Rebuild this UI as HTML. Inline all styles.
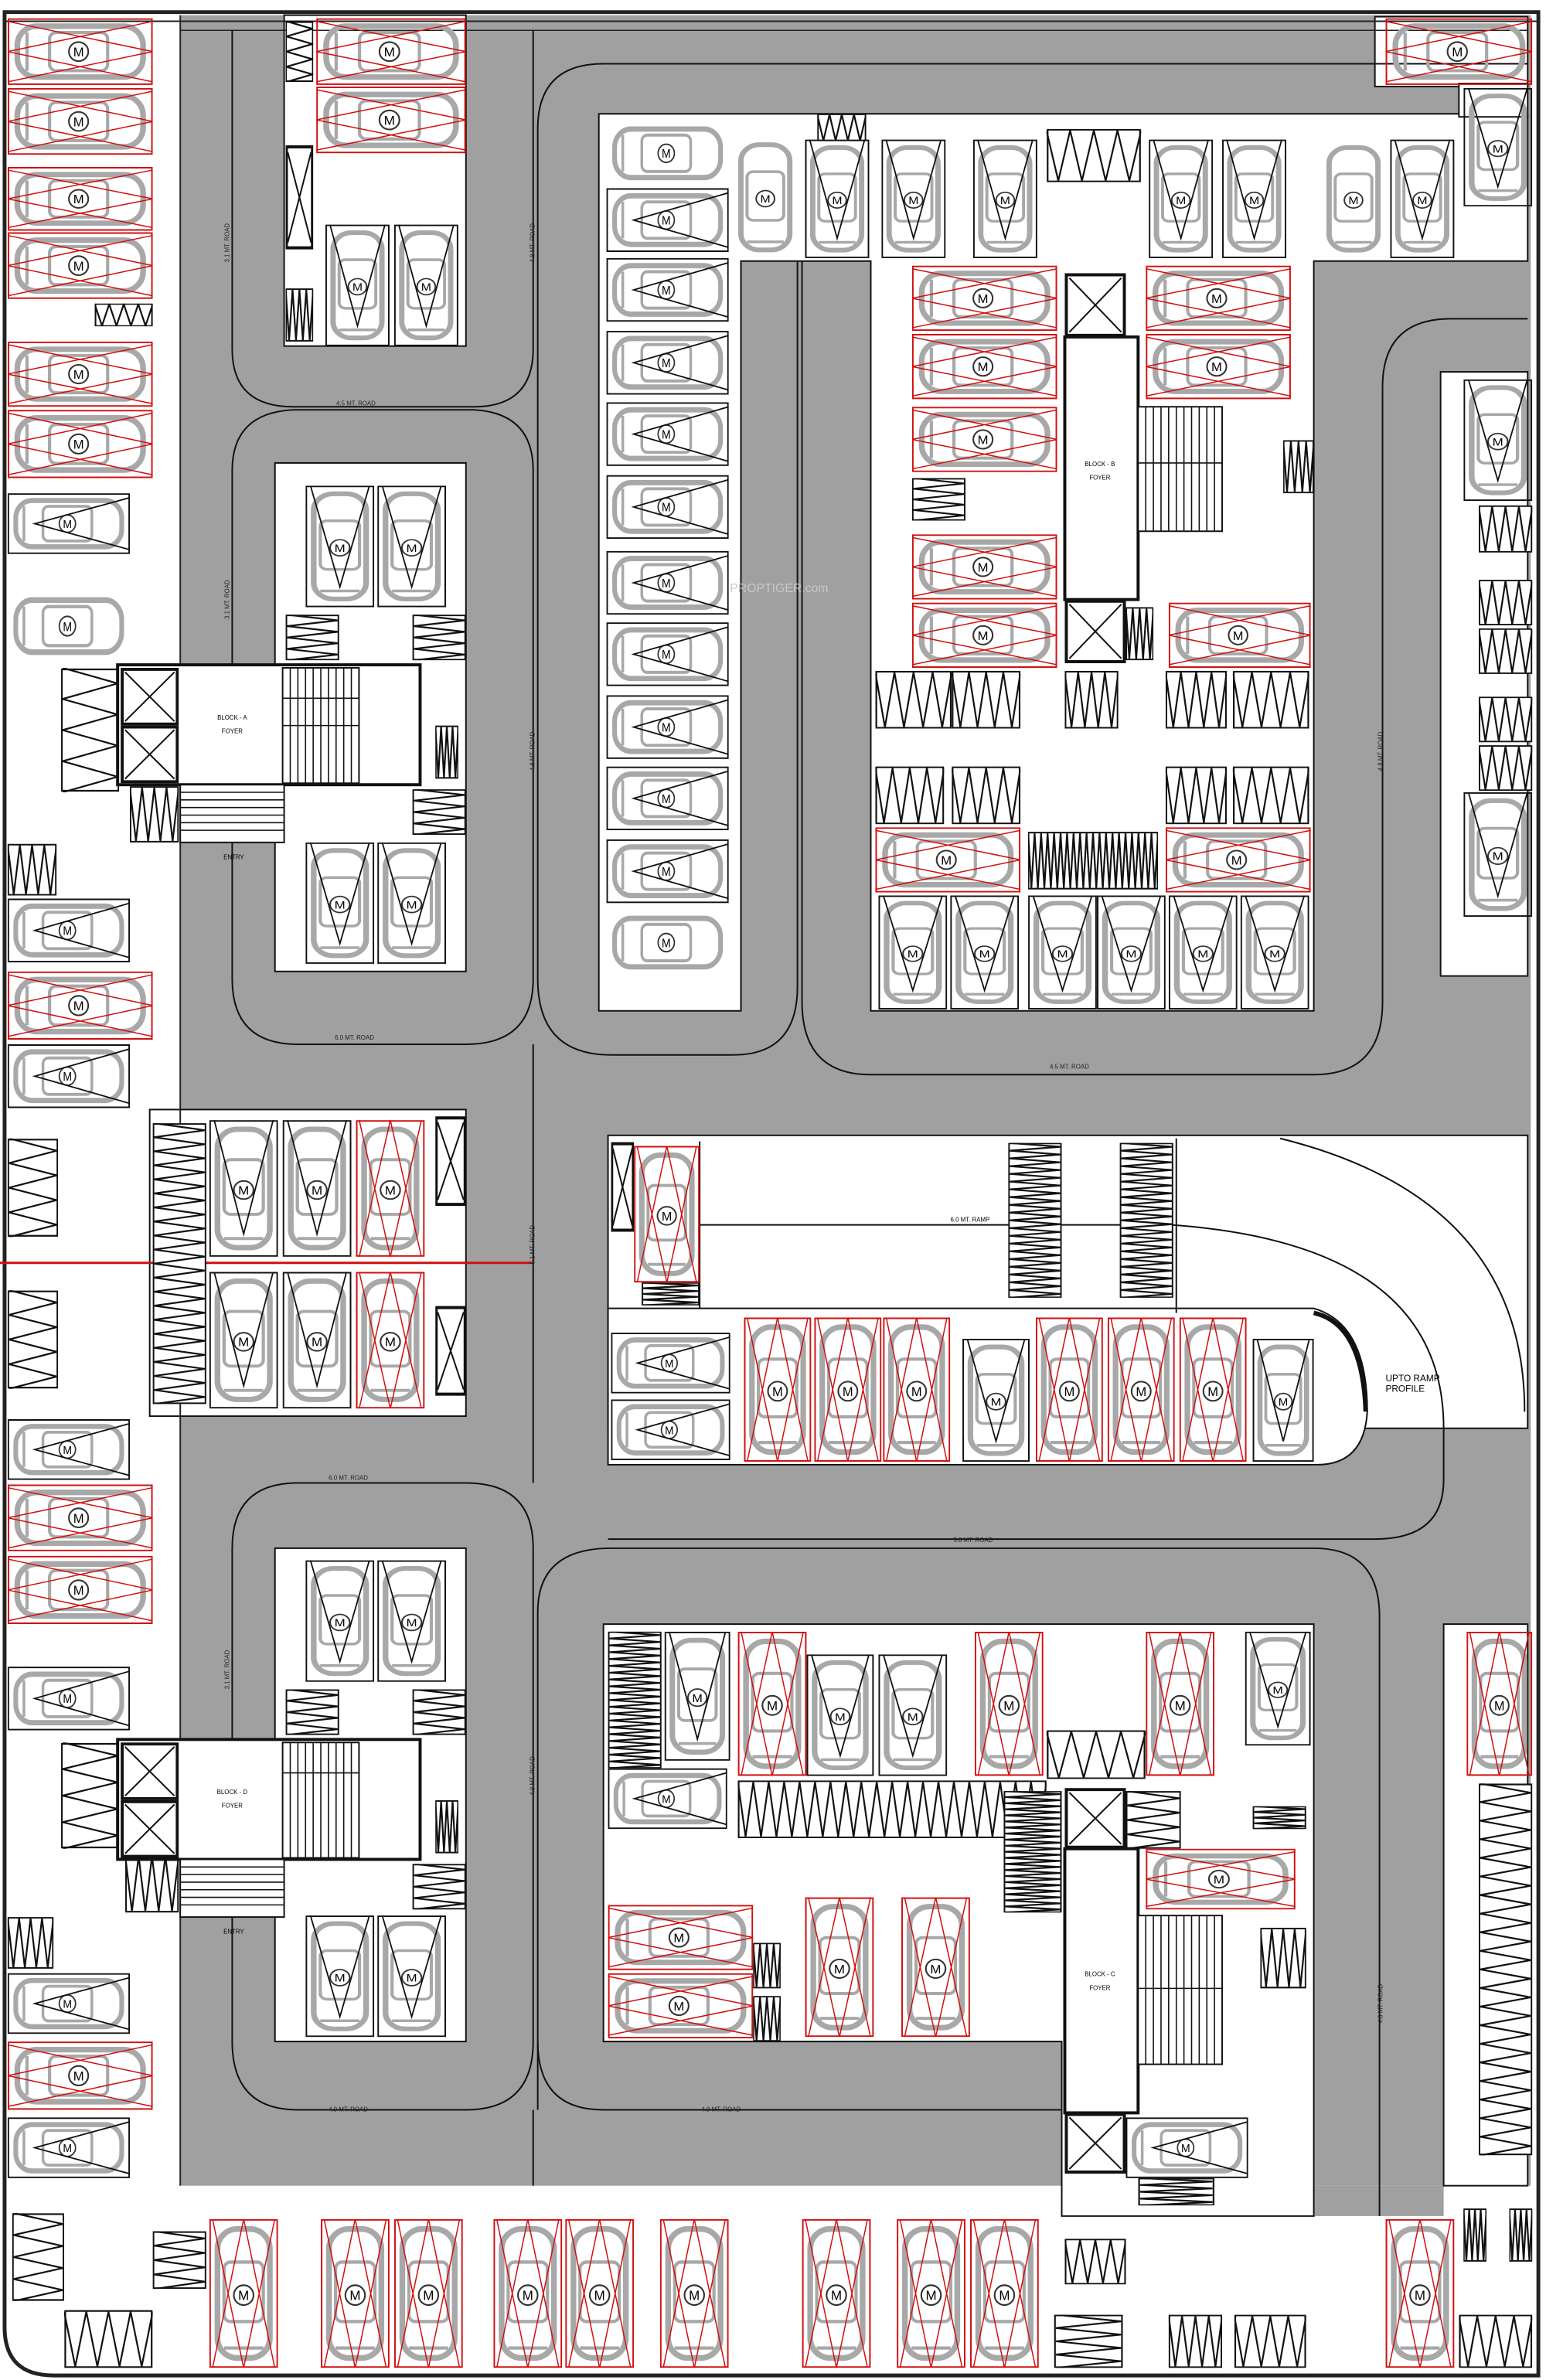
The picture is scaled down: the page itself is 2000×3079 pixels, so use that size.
<!DOCTYPE html>
<html><head><meta charset="utf-8"><style>
html,body{margin:0;padding:0;background:#fff}
svg{display:block}
text{font-family:"Liberation Sans",sans-serif}
</style></head><body>
<svg width="2000" height="3079" viewBox="0 0 1012 1568" preserveAspectRatio="none" xmlns="http://www.w3.org/2000/svg">
<defs>
<symbol id="ch" viewBox="0 0 90 42" preserveAspectRatio="none">
<rect x="6" y="5" width="78" height="32" rx="12" fill="none" stroke="#a8a8a8" stroke-width="3.5"/>
<rect x="26" y="9" width="36" height="24" rx="4" fill="none" stroke="#a8a8a8" stroke-width="2"/>
<line x1="12" y1="9" x2="12" y2="33" stroke="#a8a8a8" stroke-width="2"/>
<circle cx="44" cy="21" r="6" fill="#fff" stroke="#333" stroke-width="1"/>
<text x="44" y="24" font-size="8" text-anchor="middle">M</text>
</symbol>
<symbol id="cv" viewBox="0 0 42 90" preserveAspectRatio="none">
<rect x="5" y="6" width="32" height="78" rx="12" fill="none" stroke="#a8a8a8" stroke-width="3.5"/>
<rect x="9" y="26" width="24" height="36" rx="4" fill="none" stroke="#a8a8a8" stroke-width="2"/>
<line x1="9" y1="78" x2="33" y2="78" stroke="#a8a8a8" stroke-width="2"/>
<circle cx="21" cy="46" r="6" fill="#fff" stroke="#333" stroke-width="1"/>
<text x="21" y="49" font-size="8" text-anchor="middle">M</text>
</symbol>
<symbol id="RH" viewBox="0 0 90 42" preserveAspectRatio="none">
<use href="#ch" width="90" height="42"/>
<rect x="0.5" y="0.5" width="89" height="41" fill="none" stroke="#d01010" stroke-width="2" vector-effect="non-scaling-stroke"/>
<polyline points="0,2 90,21 0,40" fill="none" stroke="#d01010" stroke-width="1.5" vector-effect="non-scaling-stroke"/>
<polyline points="90,2 0,21 90,40" fill="none" stroke="#d01010" stroke-width="1.5" vector-effect="non-scaling-stroke"/>
</symbol>
<symbol id="KH" viewBox="0 0 90 42" preserveAspectRatio="none">
<use href="#ch" width="90" height="42"/>
<rect x="0.5" y="0.5" width="89" height="41" fill="none" stroke="#111" stroke-width="2" vector-effect="non-scaling-stroke"/>
<polyline points="90,3 20,21 90,39" fill="none" stroke="#111" stroke-width="1.8" vector-effect="non-scaling-stroke"/>
</symbol>
<symbol id="RV" viewBox="0 0 42 90" preserveAspectRatio="none">
<use href="#cv" width="42" height="90"/>
<rect x="0.5" y="0.5" width="41" height="89" fill="none" stroke="#d01010" stroke-width="2" vector-effect="non-scaling-stroke"/>
<polyline points="2,0 21,90 40,0" fill="none" stroke="#d01010" stroke-width="1.5" vector-effect="non-scaling-stroke"/>
<polyline points="2,90 21,0 40,90" fill="none" stroke="#d01010" stroke-width="1.5" vector-effect="non-scaling-stroke"/>
</symbol>
<symbol id="KV" viewBox="0 0 42 90" preserveAspectRatio="none">
<use href="#cv" width="42" height="90"/>
<rect x="0.5" y="0.5" width="41" height="89" fill="none" stroke="#111" stroke-width="2" vector-effect="non-scaling-stroke"/>
<polyline points="3,0 21,75 39,0" fill="none" stroke="#111" stroke-width="1.8" vector-effect="non-scaling-stroke"/>
</symbol>
<symbol id="ZV" viewBox="0 0 40 40" preserveAspectRatio="none">
<rect x="0.5" y="0.5" width="39" height="39" fill="#fff" stroke="#111" stroke-width="2.2" vector-effect="non-scaling-stroke"/>
<polyline points="0,1 5,39 10,1 15,39 20,1 25,39 30,1 35,39 40,1" fill="none" stroke="#111" stroke-width="2.2" vector-effect="non-scaling-stroke"/>
</symbol>
<symbol id="ZW" viewBox="0 0 200 40" preserveAspectRatio="none">
<rect x="0.5" y="0.5" width="199" height="39" fill="#fff" stroke="#111" stroke-width="2.2" vector-effect="non-scaling-stroke"/>
<polyline points="0,1 5,39 10,1 15,39 20,1 25,39 30,1 35,39 40,1 45,39 50,1 55,39 60,1 65,39 70,1 75,39 80,1 85,39 90,1 95,39 100,1 105,39 110,1 115,39 120,1 125,39 130,1 135,39 140,1 145,39 150,1 155,39 160,1 165,39 170,1 175,39 180,1 185,39 190,1 195,39 200,1" fill="none" stroke="#111" stroke-width="2.2" vector-effect="non-scaling-stroke"/>
</symbol>
<symbol id="ZH" viewBox="0 0 40 40" preserveAspectRatio="none">
<rect x="0.5" y="0.5" width="39" height="39" fill="#fff" stroke="#111" stroke-width="2.2" vector-effect="non-scaling-stroke"/>
<polyline points="1,0 39,5 1,10 39,15 1,20 39,25 1,30 39,35 1,40" fill="none" stroke="#111" stroke-width="2.2" vector-effect="non-scaling-stroke"/>
</symbol>
<symbol id="ZT" viewBox="0 0 40 200" preserveAspectRatio="none">
<rect x="0.5" y="0.5" width="39" height="199" fill="#fff" stroke="#111" stroke-width="2.2" vector-effect="non-scaling-stroke"/>
<polyline points="1,0 39,5 1,10 39,15 1,20 39,25 1,30 39,35 1,40 39,45 1,50 39,55 1,60 39,65 1,70 39,75 1,80 39,85 1,90 39,95 1,100 39,105 1,110 39,115 1,120 39,125 1,130 39,135 1,140 39,145 1,150 39,155 1,160 39,165 1,170 39,175 1,180 39,185 1,190 39,195 1,200" fill="none" stroke="#111" stroke-width="2.2" vector-effect="non-scaling-stroke"/>
</symbol>
<symbol id="XB" viewBox="0 0 40 40" preserveAspectRatio="none">
<rect x="1" y="1" width="38" height="38" fill="#fff" stroke="#111" stroke-width="4" vector-effect="non-scaling-stroke"/>
<line x1="3" y1="3" x2="37" y2="37" stroke="#111" stroke-width="2" vector-effect="non-scaling-stroke"/>
<line x1="37" y1="3" x2="3" y2="37" stroke="#111" stroke-width="2" vector-effect="non-scaling-stroke"/>
</symbol>
</defs>

<rect x="118" y="10" width="884" height="1430" fill="#a0a0a0"/>
<rect x="856" y="1440" width="89" height="20" fill="#a0a0a0"/>

<g fill="#fff" stroke="#111" stroke-width="1">
<rect x="186" y="10" width="119" height="218"/>
<rect x="180" y="305" width="125" height="335"/>
<path d="M392,75 H1000 V172 H860 V666 H570 V172 H485 V666 H392 Z"/>
<rect x="943" y="245" width="57" height="398"/>
<rect x="900" y="11" width="100" height="46"/>
<rect x="955" y="55" width="45" height="22"/>
<rect x="98" y="731" width="207" height="202"/>
<rect x="398" y="748" width="602" height="193"/>
<path d="M398,862 H860 Q895,872 895,930 Q893,965 862,965 H398 Z"/>
<rect x="180" y="1020" width="125" height="325"/>
<path d="M395,1070 H860 V1460 H695 V1345 H395 Z"/>
<rect x="945" y="1070" width="55" height="370"/>
</g>

<path d="M3,8 H1007 V1565 H35 Q3,1565 3,1533 Z" fill="none" stroke="#222" stroke-width="2.5"/>
<line x1="3" y1="14" x2="1007" y2="14" stroke="#222" stroke-width="1"/>
<line x1="118" y1="20" x2="1000" y2="20" stroke="#222" stroke-width="0.8"/>
<line x1="118" y1="10" x2="118" y2="1440" stroke="#222" stroke-width="1"/>

<g fill="none" stroke="#111" stroke-width="1">
<path d="M152,20 V230 Q152,268 192,268 H310 Q349,268 349,230 V20"/>
<path d="M152,440 V310 Q152,272 192,270 H310 Q349,272 349,310 V645 Q349,688 305,688 H195 Q152,688 152,645 V555"/>
<path d="M152,1148 V1020 Q152,977 195,977 H305 Q349,977 349,1020 V1345 Q349,1390 305,1390 H195 Q152,1390 152,1345 V1262"/>
<line x1="349" y1="688" x2="349" y2="977"/>
<line x1="349" y1="1390" x2="349" y2="1440"/>
<path d="M352,645 V85 Q352,42 395,42 H1000"/>
<path d="M352,645 Q352,695 400,695 H480 Q522,695 522,650 V172"/>
<path d="M525,172 V660 Q525,708 570,708 H860 Q905,708 905,660 V255 Q905,210 950,210 H1000"/>
<path d="M352,1390 V1062 Q352,1020 400,1020 H860 Q903,1020 903,1065 V1460"/>
<path d="M352,1345 Q352,1390 395,1390 H695"/>
<path d="M398,1014 H900 Q945,1014 945,975 V941"/>
<path d="M838,750 Q998,790 998,930"/>
<path d="M458,807 H767 Q945,820 945,941"/>
<line x1="458" y1="752" x2="458" y2="862"/>
<line x1="770" y1="750" x2="770" y2="865"/>
</g>
<path d="M860,865 Q892,872 894,930" fill="none" stroke="#111" stroke-width="3"/>

<line x1="0" y1="832" x2="348" y2="832" stroke="#d01010" stroke-width="1.5"/>

<use href="#RH" x="5" y="12" width="95" height="44"/>
<use href="#RH" x="5" y="58" width="95" height="44"/>
<use href="#RH" x="5" y="110" width="95" height="42"/>
<use href="#RH" x="5" y="153" width="95" height="44"/>
<use href="#ZV" x="62" y="200" width="38" height="15"/>
<use href="#RH" x="5" y="225" width="95" height="43"/>
<use href="#RH" x="5" y="270" width="95" height="45"/>
<use href="#KH" x="5" y="325" width="80" height="40"/>
<use href="#ch" x="5" y="390" width="80" height="45"/>
<use href="#ZH" x="40" y="440" width="38" height="82"/>
<use href="#ZV" x="85" y="518" width="32" height="37"/>
<use href="#ZV" x="5" y="556" width="32" height="34"/>
<use href="#KH" x="5" y="592" width="80" height="42"/>
<use href="#RH" x="5" y="640" width="95" height="45"/>
<use href="#KH" x="5" y="688" width="80" height="42"/>
<use href="#ZH" x="5" y="750" width="33" height="65"/>
<use href="#ZH" x="5" y="850" width="33" height="65"/>
<use href="#KH" x="5" y="935" width="80" height="40"/>
<use href="#RH" x="5" y="978" width="95" height="44"/>
<use href="#RH" x="5" y="1025" width="95" height="45"/>
<use href="#KH" x="5" y="1098" width="80" height="42"/>
<use href="#ZH" x="40" y="1148" width="38" height="70"/>
<use href="#ZV" x="82" y="1222" width="35" height="38"/>
<use href="#ZV" x="5" y="1263" width="30" height="34"/>
<use href="#KH" x="5" y="1300" width="80" height="40"/>
<use href="#RH" x="5" y="1345" width="95" height="45"/>
<use href="#KH" x="5" y="1395" width="80" height="40"/>
<use href="#ZH" x="8" y="1458" width="34" height="58"/>
<use href="#ZV" x="42" y="1522" width="58" height="38"/>
<use href="#ZH" x="100" y="1470" width="35" height="38"/>

<use href="#ZH" x="187" y="14" width="18" height="40"/>
<use href="#XB" x="187" y="95" width="18" height="70"/>
<use href="#ZV" x="187" y="190" width="18" height="35"/>
<use href="#RH" x="207" y="12" width="98" height="44"/>
<use href="#RH" x="207" y="57" width="98" height="44"/>
<use href="#KV" x="213" y="148" width="42" height="80"/>
<use href="#KV" x="258" y="148" width="42" height="80"/>

<use href="#KV" x="200" y="320" width="45" height="80"/>
<use href="#KV" x="247" y="320" width="45" height="80"/>
<use href="#ZH" x="187" y="405" width="35" height="30"/>
<use href="#ZH" x="270" y="405" width="35" height="30"/>
<use href="#ZH" x="270" y="520" width="35" height="30"/>
<use href="#ZV" x="285" y="478" width="15" height="35"/>
<use href="#KV" x="200" y="555" width="45" height="80"/>
<use href="#KV" x="247" y="555" width="45" height="80"/>
<g>
<rect x="77" y="438" width="198" height="79" fill="#fff" stroke="#111" stroke-width="2"/>
<use href="#XB" x="79" y="440" width="38" height="38"/>
<use href="#XB" x="79" y="478" width="38" height="38"/>
<rect x="185" y="440" width="50" height="76" fill="#fff" stroke="#111" stroke-width="1"/>
<path d="M190,440V516M195,440V516M200,440V516M205,440V516M210,440V516M215,440V516M220,440V516M225,440V516M230,440V516M185,478H235M185,460H235" stroke="#111" stroke-width="0.8"/>
<rect x="118" y="517" width="68" height="38" fill="#fff" stroke="#111" stroke-width="1"/>
<path d="M118,522H186M118,527H186M118,532H186M118,537H186M118,542H186M118,547H186" stroke="#111" stroke-width="0.8"/>
<text x="152" y="474" font-size="4" text-anchor="middle">BLOCK - A</text>
<text x="152" y="483" font-size="4" text-anchor="middle">FOYER</text>
<text x="153" y="566" font-size="4" text-anchor="middle">ENTRY</text>
</g>

<use href="#ZT" x="100" y="740" width="35" height="185"/>
<use href="#KV" x="137" y="738" width="45" height="90"/>
<use href="#KV" x="185" y="738" width="45" height="90"/>
<use href="#RV" x="233" y="738" width="45" height="90"/>
<use href="#KV" x="137" y="838" width="45" height="90"/>
<use href="#KV" x="185" y="838" width="45" height="90"/>
<use href="#RV" x="233" y="838" width="45" height="90"/>
<use href="#XB" x="285" y="735" width="20" height="60"/>
<use href="#XB" x="285" y="860" width="20" height="60"/>

<use href="#KV" x="200" y="1028" width="45" height="80"/>
<use href="#KV" x="247" y="1028" width="45" height="80"/>
<use href="#ZH" x="187" y="1113" width="35" height="30"/>
<use href="#ZH" x="270" y="1113" width="35" height="30"/>
<use href="#ZH" x="270" y="1228" width="35" height="30"/>
<use href="#ZV" x="285" y="1186" width="15" height="35"/>
<use href="#KV" x="200" y="1262" width="45" height="80"/>
<use href="#KV" x="247" y="1262" width="45" height="80"/>
<g>
<rect x="77" y="1146" width="198" height="79" fill="#fff" stroke="#111" stroke-width="2"/>
<use href="#XB" x="79" y="1148" width="38" height="38"/>
<use href="#XB" x="79" y="1186" width="38" height="38"/>
<rect x="185" y="1148" width="50" height="76" fill="#fff" stroke="#111" stroke-width="1"/>
<path d="M190,1148V1224M195,1148V1224M200,1148V1224M205,1148V1224M210,1148V1224M215,1148V1224M220,1148V1224M225,1148V1224M230,1148V1224M185,1168H235" stroke="#111" stroke-width="0.8"/>
<rect x="118" y="1225" width="68" height="38" fill="#fff" stroke="#111" stroke-width="1"/>
<path d="M118,1230H186M118,1235H186M118,1240H186M118,1245H186M118,1250H186M118,1255H186" stroke="#111" stroke-width="0.8"/>
<text x="152" y="1182" font-size="4" text-anchor="middle">BLOCK - D</text>
<text x="152" y="1191" font-size="4" text-anchor="middle">FOYER</text>
<text x="153" y="1274" font-size="4" text-anchor="middle">ENTRY</text>
</g>

<use href="#ch" x="397" y="80" width="80" height="42"/>
<use href="#KH" x="397" y="124" width="80" height="42"/>
<use href="#KH" x="397" y="170" width="80" height="42"/>
<use href="#KH" x="397" y="218" width="80" height="42"/>
<use href="#KH" x="397" y="265" width="80" height="42"/>
<use href="#KH" x="397" y="313" width="80" height="42"/>
<use href="#KH" x="397" y="363" width="80" height="42"/>
<use href="#KH" x="397" y="410" width="80" height="42"/>
<use href="#KH" x="397" y="458" width="80" height="42"/>
<use href="#KH" x="397" y="505" width="80" height="42"/>
<use href="#KH" x="397" y="553" width="80" height="42"/>
<use href="#ch" x="397" y="600" width="80" height="42"/>

<use href="#ZV" x="535" y="75" width="32" height="18"/>
<use href="#cv" x="480" y="90" width="42" height="80"/>
<use href="#KV" x="527" y="92" width="42" height="78"/>
<use href="#KV" x="577" y="92" width="42" height="78"/>
<use href="#KV" x="637" y="92" width="42" height="78"/>
<use href="#ZV" x="685" y="85" width="62" height="35"/>
<use href="#KV" x="752" y="92" width="42" height="78"/>
<use href="#KV" x="800" y="92" width="42" height="78"/>
<use href="#cv" x="865" y="92" width="42" height="78"/>
<use href="#KV" x="910" y="92" width="42" height="78"/>
<use href="#RH" x="907" y="12" width="96" height="44"/>
<use href="#KV" x="958" y="58" width="45" height="78"/>

<use href="#RH" x="597" y="175" width="95" height="43"/>
<use href="#RH" x="597" y="220" width="95" height="43"/>
<use href="#RH" x="597" y="268" width="95" height="43"/>
<use href="#ZH" x="597" y="315" width="35" height="28"/>
<use href="#RH" x="597" y="352" width="95" height="43"/>
<use href="#RH" x="597" y="397" width="95" height="43"/>
<use href="#RH" x="750" y="175" width="95" height="43"/>
<use href="#RH" x="750" y="220" width="95" height="43"/>
<use href="#RH" x="765" y="397" width="93" height="43"/>
<use href="#XB" x="697" y="180" width="40" height="42"/>
<use href="#XB" x="697" y="395" width="40" height="42"/>
<rect x="697" y="222" width="48" height="173" fill="#fff" stroke="#111" stroke-width="2"/>
<rect x="745" y="268" width="55" height="82" fill="#fff" stroke="#111" stroke-width="1"/>
<path d="M750,268V350M755,268V350M760,268V350M765,268V350M770,268V350M775,268V350M780,268V350M785,268V350M790,268V350M795,268V350M745,305H800" stroke="#111" stroke-width="0.8"/>
<text x="720" y="307" font-size="4" text-anchor="middle">BLOCK - B</text>
<text x="720" y="316" font-size="4" text-anchor="middle">FOYER</text>
<use href="#ZV" x="840" y="290" width="20" height="35"/>
<use href="#ZV" x="737" y="400" width="18" height="35"/>
<use href="#ZV" x="573" y="442" width="50" height="38"/>
<use href="#ZV" x="623" y="442" width="45" height="38"/>
<use href="#ZV" x="697" y="442" width="35" height="38"/>
<use href="#ZV" x="763" y="442" width="40" height="38"/>
<use href="#ZV" x="807" y="442" width="50" height="38"/>
<use href="#ZV" x="573" y="505" width="45" height="38"/>
<use href="#ZV" x="623" y="505" width="45" height="38"/>
<use href="#ZV" x="763" y="505" width="40" height="38"/>
<use href="#ZV" x="807" y="505" width="50" height="38"/>
<use href="#RH" x="573" y="545" width="95" height="43"/>
<use href="#ZW" x="673" y="548" width="85" height="38"/>
<use href="#RH" x="763" y="545" width="95" height="43"/>
<use href="#KV" x="575" y="590" width="45" height="75"/>
<use href="#KV" x="622" y="590" width="45" height="75"/>
<use href="#KV" x="673" y="590" width="45" height="75"/>
<use href="#KV" x="718" y="590" width="45" height="75"/>
<use href="#KV" x="765" y="590" width="45" height="75"/>
<use href="#KV" x="812" y="590" width="45" height="75"/>

<use href="#KV" x="958" y="250" width="45" height="80"/>
<use href="#ZV" x="968" y="333" width="35" height="31"/>
<use href="#ZV" x="968" y="382" width="35" height="30"/>
<use href="#ZV" x="968" y="414" width="35" height="30"/>
<use href="#ZV" x="968" y="459" width="35" height="30"/>
<use href="#ZV" x="968" y="491" width="35" height="30"/>
<use href="#KV" x="958" y="522" width="45" height="82"/>

<use href="#XB" x="400" y="752" width="15" height="60"/>
<use href="#RV" x="415" y="755" width="43" height="90"/>
<use href="#ZH" x="420" y="845" width="38" height="15"/>
<use href="#ZT" x="660" y="753" width="35" height="102"/>
<use href="#ZT" x="733" y="753" width="35" height="102"/>
<text x="635" y="805" font-size="4" text-anchor="middle">6.0 MT. RAMP</text>
<text x="907" y="910" font-size="6">UPTO RAMP</text>
<text x="907" y="917" font-size="6">PROFILE</text>
<use href="#KH" x="400" y="878" width="78" height="40"/>
<use href="#KH" x="400" y="922" width="78" height="40"/>
<use href="#RV" x="487" y="868" width="44" height="95"/>
<use href="#RV" x="533" y="868" width="44" height="95"/>
<use href="#RV" x="578" y="868" width="44" height="95"/>
<use href="#KV" x="630" y="882" width="44" height="81"/>
<use href="#RV" x="678" y="868" width="44" height="95"/>
<use href="#RV" x="725" y="868" width="44" height="95"/>
<use href="#RV" x="772" y="868" width="44" height="95"/>
<use href="#KV" x="820" y="882" width="40" height="81"/>

<use href="#ZT" x="398" y="1075" width="35" height="90"/>
<use href="#KV" x="435" y="1075" width="43" height="85"/>
<use href="#KH" x="398" y="1165" width="78" height="40"/>
<use href="#RV" x="483" y="1075" width="45" height="95"/>
<use href="#KV" x="528" y="1090" width="44" height="80"/>
<use href="#KV" x="575" y="1090" width="45" height="80"/>
<use href="#RV" x="638" y="1075" width="45" height="95"/>
<use href="#RV" x="750" y="1075" width="45" height="95"/>
<use href="#KV" x="815" y="1075" width="43" height="75"/>
<use href="#ZW" x="483" y="1173" width="202" height="38"/>
<use href="#ZV" x="685" y="1140" width="65" height="32"/>
<use href="#ZT" x="657" y="1180" width="38" height="80"/>
<use href="#ZH" x="737" y="1180" width="36" height="38"/>
<use href="#ZH" x="820" y="1190" width="35" height="15"/>
<use href="#RH" x="750" y="1218" width="98" height="40"/>
<use href="#XB" x="697" y="1178" width="40" height="40"/>
<rect x="697" y="1218" width="48" height="174" fill="#fff" stroke="#111" stroke-width="2"/>
<use href="#XB" x="697" y="1392" width="40" height="40"/>
<rect x="745" y="1262" width="55" height="98" fill="#fff" stroke="#111" stroke-width="1"/>
<path d="M750,1262V1360M755,1262V1360M760,1262V1360M765,1262V1360M770,1262V1360M775,1262V1360M780,1262V1360M785,1262V1360M790,1262V1360M795,1262V1360M745,1310H800" stroke="#111" stroke-width="0.8"/>
<text x="720" y="1302" font-size="4" text-anchor="middle">BLOCK - C</text>
<text x="720" y="1311" font-size="4" text-anchor="middle">FOYER</text>
<use href="#ZV" x="825" y="1270" width="30" height="40"/>
<use href="#KH" x="737" y="1395" width="80" height="40"/>
<use href="#ZH" x="745" y="1435" width="50" height="18"/>
<use href="#RH" x="398" y="1255" width="95" height="43"/>
<use href="#RH" x="398" y="1300" width="95" height="43"/>
<use href="#ZV" x="493" y="1280" width="18" height="30"/>
<use href="#ZV" x="493" y="1315" width="18" height="30"/>
<use href="#RV" x="527" y="1250" width="45" height="92"/>
<use href="#RV" x="590" y="1250" width="45" height="92"/>

<use href="#RV" x="960" y="1075" width="43" height="95"/>
<use href="#ZT" x="968" y="1175" width="35" height="245"/>

<use href="#RV" x="137" y="1462" width="45" height="98"/>
<use href="#RV" x="210" y="1462" width="45" height="98"/>
<use href="#RV" x="258" y="1462" width="45" height="98"/>
<use href="#RV" x="323" y="1462" width="45" height="98"/>
<use href="#RV" x="370" y="1462" width="45" height="98"/>
<use href="#RV" x="432" y="1462" width="45" height="98"/>
<use href="#RV" x="525" y="1462" width="45" height="98"/>
<use href="#RV" x="587" y="1462" width="45" height="98"/>
<use href="#RV" x="635" y="1462" width="45" height="98"/>
<use href="#RV" x="907" y="1462" width="45" height="98"/>
<use href="#ZV" x="697" y="1475" width="40" height="30"/>
<use href="#ZH" x="690" y="1525" width="45" height="35"/>
<use href="#ZV" x="765" y="1525" width="35" height="35"/>
<use href="#ZV" x="808" y="1525" width="47" height="35"/>
<use href="#ZV" x="955" y="1525" width="48" height="35"/>
<use href="#ZV" x="958" y="1455" width="15" height="35"/>
<use href="#ZV" x="988" y="1455" width="15" height="35"/>

<g font-size="4" fill="#222">
<text x="233" y="267" text-anchor="middle">4.5 MT. ROAD</text>
<text x="232" y="685" text-anchor="middle">6.0 MT. ROAD</text>
<text x="700" y="704" text-anchor="middle">4.5 MT. ROAD</text>
<text x="228" y="975" text-anchor="middle">6.0 MT. ROAD</text>
<text x="637" y="1016" text-anchor="middle">5.8 MT. ROAD</text>
<text x="228" y="1391" text-anchor="middle">4.9 MT. ROAD</text>
<text x="472" y="1391" text-anchor="middle">4.9 MT. ROAD</text>
<text transform="translate(150,160) rotate(-90)" text-anchor="middle">3.1 MT. ROAD</text>
<text transform="translate(150,395) rotate(-90)" text-anchor="middle">3.1 MT. ROAD</text>
<text transform="translate(150,1100) rotate(-90)" text-anchor="middle">3.1 MT. ROAD</text>
<text transform="translate(350,160) rotate(-90)" text-anchor="middle">4.8 MT. ROAD</text>
<text transform="translate(350,495) rotate(-90)" text-anchor="middle">4.8 MT. ROAD</text>
<text transform="translate(350,820) rotate(-90)" text-anchor="middle">5.1 MT. ROAD</text>
<text transform="translate(350,1170) rotate(-90)" text-anchor="middle">4.8 MT. ROAD</text>
<text transform="translate(905,495) rotate(-90)" text-anchor="middle">4.8 MT. ROAD</text>
<text transform="translate(905,1320) rotate(-90)" text-anchor="middle">4.8 MT. ROAD</text>
</g>
<text x="510" y="390" font-size="8" fill="#c8c8c8" text-anchor="middle">PROPTIGER.com</text>
</svg>
</body></html>
